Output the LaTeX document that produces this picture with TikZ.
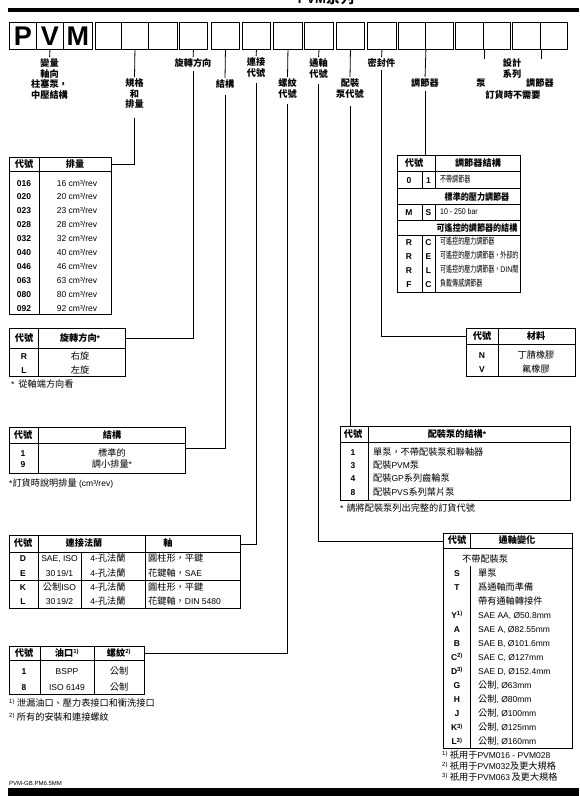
\documentclass[tikz,border=0pt]{standalone}
\usepackage{fontspec}
\setmainfont{Liberation Sans}
\newfontfamily\cjk[Scale=1.08]{Noto Sans CJK TC}
\newfontfamily\cjkn[Scale=1.08, FakeStretch=0.68]{Noto Sans CJK TC}
\newfontfamily\cjkm[Scale=1.08, FakeStretch=0.88]{Noto Sans CJK TC}
\newfontfamily\latn[FakeStretch=0.85]{Liberation Sans}
\newcommand\C[1]{{\cjk #1}}
\newcommand\N[1]{{\cjkn #1}}
\newcommand\M[1]{{\cjkm #1}}
\tikzset{
  fs/.style={font=\fontsize{8.5}{10.5}\selectfont},
  fsb/.style={font=\fontsize{8.5}{10.5}\selectfont\bfseries},
  tx/.style={fs, inner sep=0pt, text height=6pt, text depth=0pt},
  txb/.style={fsb, inner sep=0pt, text height=6pt, text depth=0pt},
  txn/.style={font=\fontsize{8.2}{10}\selectfont\latn, inner sep=0pt, text height=5.8pt, text depth=0pt},
  lab/.style={fsb, inner sep=0pt, align=center, anchor=north},
  cellbox/.style={draw, line width=0.9pt, minimum height=27pt, inner sep=0pt, anchor=north west},
  tab/.style={draw, line width=0.8pt, inner sep=0pt, anchor=north west},
  rowbox/.style={inner sep=0pt, anchor=north west},
  rule/.style={line width=0.8pt},
  con/.style={line width=0.8pt},
  big/.style={font=\fontsize{27}{27}\selectfont\bfseries, inner sep=0pt},
}
\begin{document}
\begin{tikzpicture}[x=1pt,y=-1pt]
\clip (0,0) rectangle (579,796);
% ---------- header ----------
\fill (8,8) rectangle (579,12);
\node[font=\fontsize{13}{13}\selectfont\bfseries, inner sep=0pt, anchor=base] (title) at (326,3) {PVM\C{系列}};
% ---------- code boxes ----------
\foreach \n/\a/\w in {1/9/27, 2/36/27, 3/63/29, 4/95/26, 5/121/27, 6/148/29, 7/179/28, 8/211/28, 9/242/28, 10/273/29, 11/304/29, 12/336/28, 13/367/29, 14/398/27, 15/425/28, 16/455/28, 17/483/27, 18/512/28, 19/540/27}
  \node[cellbox, minimum width=\w pt] (c\n) at (\a,22) {};
\node[big] (lp) at (c1) {P};
\node[big] (lv) at (c2) {V};
\node[big] (lm) at (c3) {M};
% ---------- labels ----------
\node[lab] (lab1) at (49.5,58.7) {\C{變量}\\\C{軸向}\\\C{柱塞泵，}\\\C{中壓結構}};
\node[lab] (lab2) at (134.5,78.7) {\C{規格}\\\C{和}\\\C{排量}};
\node[lab] (lab3) at (193,58.7) {\C{旋轉方向}};
\node[lab] (lab4) at (225,79.7) {\C{結構}};
\node[lab] (lab5) at (256,57.7) {\C{連接}\\\C{代號}};
\node[lab] (lab6) at (287.5,78.7) {\C{螺紋}\\\C{代號}};
\node[lab] (lab7) at (318.5,58.7) {\C{通軸}\\\C{代號}};
\node[lab] (lab8) at (350,78.7) {\C{配裝}\\\C{泵代號}};
\node[lab] (lab9) at (381.5,58.7) {\C{密封件}};
\node[lab] (lab10) at (425,78.7) {\C{調節器}};
\node[lab] (lab11) at (481,78.7) {\C{泵}};
\node[lab] (lab12) at (512,58.7) {\C{設計}\\\C{系列}};
\node[lab] (lab13) at (540,78.7) {\C{調節器}};
\node[lab] (lab14) at (513,90.7) {\C{訂貨時不需要}};
% ---------- displacement table ----------
\node[tab, minimum width=102pt, minimum height=157pt] (tdisp) at (9,157) {};
\node[tab, minimum width=102pt, minimum height=14pt] (tdisph) at (9,157) {};
\draw[rule] (39,157) -- (39,314);
\node[txb] (dh1) at (24,164) {\C{代號}};
\node[txb] (dh2) at (75,164) {\C{排量}};
\foreach \c/\v [count=\i] in {016/16,020/20,023/23,028/28,032/32,040/40,046/46,063/63,080/80,092/92}{
  \pgfmathsetmacro\yy{183+(\i-1)*13.9}
  \node[txb] (dc\i) at (24,\yy) {\c};
  \node[tx] (dv\i) at (77,\yy) {\v\ cm³/rev};
}
% ---------- rotation table ----------
\node[tab, minimum width=116pt, minimum height=48pt] (trot) at (9,328) {};
\node[tab, minimum width=116pt, minimum height=20pt] (troth) at (9,328) {};
\draw[rule] (38,328) -- (38,376);
\node[txb] (rh1) at (24,338) {\C{代號}};
\node[txb] (rh2) at (80,338) {\C{旋轉方向}*};
\node[txb] (rc1) at (24,356) {R};
\node[tx] (rv1) at (80,356) {\C{右旋}};
\node[txb] (rc2) at (24,370) {L};
\node[tx] (rv2) at (80,370) {\C{左旋}};
\node[tx, anchor=west] (rfn) at (11,384) {*\hspace{4pt}\C{從軸端方向看}};
% ---------- structure table ----------
\node[tab, minimum width=176pt, minimum height=46pt] (tstr) at (9,427) {};
\node[tab, minimum width=176pt, minimum height=16pt] (tstrh) at (9,427) {};
\node[rowbox, minimum width=176pt, minimum height=10pt] (tstrr) at (9,443) {};
\draw[rule] (38,427) -- (38,473);
\node[txb] (sh1) at (23,435) {\C{代號}};
\node[txb] (sh2) at (112,435) {\C{結構}};
\node[txb] (sc1) at (23,453) {1};
\node[tx] (sv1) at (112,453) {\C{標準的}};
\node[txb] (sc2) at (23,464) {9};
\node[tx] (sv2) at (112,464) {\C{調小排量}*};
\node[tx, anchor=west] (sfn) at (9,483) {*\C{訂貨時說明排量} (cm³/rev)};
% ---------- connection table ----------
\node[tab, minimum width=231pt, minimum height=73pt] (tcon) at (9,535) {};
\node[tab, minimum width=231pt, minimum height=17pt] (tconh) at (9,535) {};
\draw[rule] (38,535) -- (38,608);
\draw[rule] (145,535) -- (145,608);
\draw[rule] (81,552) -- (81,608);
\draw[rule] (9,580) -- (240,580);
\node[txb] (ch1) at (23,543.5) {\C{代號}};
\node[txb] (ch2) at (84,543.5) {\C{連接法蘭}};
\node[txb] (ch3) at (168,543.5) {\C{軸}};
\node[txb] (cc1) at (23,558) {D};
\node[txb] (cc2) at (23,573) {E};
\node[txb] (cc3) at (23,587) {K};
\node[txb] (cc4) at (23,601) {L};
\node[tx] (cs1) at (59.5,558) {SAE, ISO};
\node[tx] (cs2) at (59.5,573) {30\,19/1};
\node[tx] (cs3) at (59.5,587) {\C{公制}ISO};
\node[tx] (cs4) at (59.5,601) {30\,19/2};
\node[tx] (cf1) at (108,558) {4-\C{孔法蘭}};
\node[tx] (cf2) at (108,573) {4-\C{孔法蘭}};
\node[tx] (cf3) at (108,587) {4-\C{孔法蘭}};
\node[tx] (cf4) at (108,601) {4-\C{孔法蘭}};
\node[tx, anchor=west] (ca1) at (148,558) {\C{圓柱形，平鍵}};
\node[tx, anchor=west] (ca2) at (148,573) {\C{花鍵軸，}SAE};
\node[tx, anchor=west] (ca3) at (148,587) {\C{圓柱形，平鍵}};
\node[tx, anchor=west] (ca4) at (148,601) {\C{花鍵軸，}DIN 5480};
% ---------- port table ----------
\node[tab, minimum width=135pt, minimum height=48pt] (tport) at (9,646) {};
\node[tab, minimum width=135pt, minimum height=14pt] (tporth) at (9,646) {};
\draw[rule] (40,646) -- (40,694);
\draw[rule] (94,646) -- (94,694);
\node[txb] (ph1) at (24,653) {\C{代號}};
\node[txb] (ph2) at (67,653) {\C{油口}\textsuperscript{1)}};
\node[txb] (ph3) at (119,653) {\C{螺紋}\textsuperscript{2)}};
\node[txb] (pc1) at (24,671) {1};
\node[tx] (pp1) at (67,671) {BSPP};
\node[tx] (pt1) at (119,671) {\C{公制}};
\node[txb] (pc2) at (24,687) {8};
\node[tx] (pp2) at (67,687) {ISO 6149};
\node[tx] (pt2) at (119,687) {\C{公制}};
\node[tx, anchor=west] (pfn1) at (9,703) {\textsuperscript{1)}\hspace{2pt}\C{泄漏油口、壓力表接口和衝洗接口}};
\node[tx, anchor=west] (pfn2) at (9,717) {\textsuperscript{2)}\hspace{2pt}\C{所有的安裝和連接螺紋}};
% ---------- regulator table ----------
\node[tab, minimum width=123pt, minimum height=137pt] (treg) at (397,155) {};
\node[tab, minimum width=123pt, minimum height=16pt] (tregh) at (397,155) {};
\draw[rule] (397,188.5) -- (520,188.5);
\draw[rule] (397,204.5) -- (520,204.5);
\draw[rule] (397,220) -- (520,220);
\draw[rule] (397,235) -- (520,235);
\draw[rule] (435,155) -- (435,188.5);
\draw[rule] (435,204.5) -- (435,220);
\draw[rule] (435,235) -- (435,292);
\draw[rule] (422,171) -- (422,188.5);
\draw[rule] (422,204.5) -- (422,220);
\draw[rule] (422,235) -- (422,292);
\node[txb] (gh1) at (414,163) {\C{代號}};
\node[txb] (gh2) at (478,163) {\C{調節器結構}};
\node[txb] (g1a) at (409,180) {0};
\node[txb] (g1b) at (428.5,180) {1};
\node[txn, anchor=west] (g1c) at (440,180) {\N{不帶調節器}};
\node[txb] (gs1) at (477,197) {\M{標準的壓力調節器}};
\node[txb] (g2a) at (409,212) {M};
\node[txb] (g2b) at (428.5,212) {S};
\node[txn, anchor=west] (g2c) at (440,212) {10 - 250 bar};
\node[txb] (gs2) at (477,228) {\M{可遙控的調節器的結構}};
\foreach \a/\b/\d [count=\i] in {R/C/{\N{可遙控的壓力調節器}}, R/E/{\N{可遙控的壓力調節器，外部的}}, R/L/{\N{可遙控的壓力調節器，}DIN\N{閥}}, F/C/{\N{負載傳感調節器}}}{
  \pgfmathsetmacro\yy{242+(\i-1)*14}
  \node[txb] (gra\i) at (409,\yy) {\a};
  \node[txb] (grb\i) at (428.5,\yy) {\b};
  \node[txn, anchor=west] (grc\i) at (440,\yy) {\d};
}
% ---------- material table ----------
\node[tab, minimum width=109pt, minimum height=48pt] (tmat) at (466,328) {};
\node[tab, minimum width=109pt, minimum height=16pt] (tmath) at (466,328) {};
\draw[rule] (498,328) -- (498,376);
\node[txb] (mh1) at (482,336) {\C{代號}};
\node[txb] (mh2) at (536,336) {\C{材料}};
\node[txb] (mc1) at (482,355) {N};
\node[tx] (mv1) at (536,355) {\C{丁腈橡膠}};
\node[txb] (mc2) at (482,369) {V};
\node[tx] (mv2) at (536,369) {\C{氟橡膠}};
% ---------- pump table ----------
\node[tab, minimum width=230pt, minimum height=74pt] (tpump) at (340,426) {};
\node[tab, minimum width=230pt, minimum height=16pt] (tpumph) at (340,426) {};
\draw[rule] (368,426) -- (368,500);
\node[txb] (uh1) at (353,434) {\C{代號}};
\node[txb] (uh2) at (457,434) {\C{配裝泵的結構}*};
\foreach \c/\d [count=\i] in {1/{\C{單泵，不帶配裝泵和聯軸器}}, 3/{\C{配裝}PVM\C{泵}}, 4/{\C{配裝}GP\C{系列齒輪泵}}, 8/{\C{配裝}PVS\C{系列葉片泵}}}{
  \pgfmathsetmacro\yy{452+(\i-1)*13.4}
  \node[txb] (uc\i) at (353,\yy) {\c};
  \node[tx, anchor=west] (ud\i) at (373,\yy) {\d};
}
\node[tx, anchor=west] (ufn) at (340,508) {*\hspace{3pt}\C{請將配裝泵列出完整的訂貨代號}};
% ---------- shaft table ----------
\node[tab, minimum width=129pt, minimum height=215pt] (tshaft) at (443,533) {};
\node[tab, minimum width=129pt, minimum height=15pt] (tshafth) at (443,533) {};
\draw[rule] (470,533) -- (470,548);
\draw[rule] (470,566) -- (470,748);
\node[txb] (hh1) at (457,540.5) {\C{代號}};
\node[txb] (hh2) at (517,540.5) {\C{通軸變化}};
\node[tx, anchor=west] (hs0) at (462,559) {\C{不帶配裝泵}};
\node[txb] (hc1) at (457,573) {S};
\node[tx, anchor=west] (hd1) at (478,573) {\C{單泵}};
\node[txb] (hc2) at (457,587) {T};
\node[tx, anchor=west] (hd2) at (478,587) {\C{爲通軸而準備}};
\node[tx, anchor=west] (hd3) at (478,601) {\C{帶有通軸轉接件}};
\foreach \c/\d [count=\i] in {Y\textsuperscript{1)}/{SAE AA, Ø50.8mm}, A/{SAE A, Ø82.55mm}, B/{SAE B, Ø101.6mm}, C\textsuperscript{2)}/{SAE C, Ø127mm}, D\textsuperscript{3)}/{SAE D, Ø152.4mm}, G/{\C{公制}, Ø63mm}, H/{\C{公制}, Ø80mm}, J/{\C{公制}, Ø100mm}, K\textsuperscript{3)}/{\C{公制}, Ø125mm}, L\textsuperscript{3)}/{\C{公制}, Ø160mm}}{
  \pgfmathsetmacro\yy{615.5+(\i-1)*14.05}
  \node[txb] (hk\i) at (457,\yy) {\c};
  \node[tx, anchor=west] (hv\i) at (478,\yy) {\d};
}
\node[tx, anchor=west] (hfn1) at (442,755) {\textsuperscript{1)}\hspace{2pt}\C{祇用于}PVM016 - PVM028};
\node[tx, anchor=west] (hfn2) at (442,766) {\textsuperscript{2)}\hspace{2pt}\C{祇用于}PVM032\C{及更大規格}};
\node[tx, anchor=west] (hfn3) at (442,777) {\textsuperscript{3)}\hspace{2pt}\C{祇用于}PVM063\,\C{及更大規格}};
% ---------- footer ----------
\node[font=\fontsize{6}{6}\selectfont, inner sep=0pt, anchor=west] (foot) at (9,783) {PVM-GB.PM6.5MM};
\fill (8,788) rectangle (579,796);
% ---------- connectors ----------
\draw[con, shorten >=1.5pt] (c2.south) -- (lab1.north);
\draw[con, shorten >=1.5pt] (c5.south) -- (lab2.north);
\draw[con, shorten >=1.5pt] (c7.south) -- (lab3.north);
\draw[con, shorten >=1.5pt] (c8.south) -- (lab4.north);
\draw[con, shorten >=1.5pt] (c9.south) -- (lab5.north);
\draw[con, shorten >=1.5pt] (c10.south) -- (lab6.north);
\draw[con, shorten >=1.5pt] (c11.south) -- (lab7.north);
\draw[con, shorten >=1.5pt] (c12.south) -- (lab8.north);
\draw[con, shorten >=1.5pt] (c13.south) -- (lab9.north);
\draw[con, shorten >=1.5pt] (c14.south east) -- (lab10.north);
\draw[con] (c16.south east) -- ++(0,9);
\draw[con] (c18.south east) -- ++(0,9);
\draw[con, shorten <=9pt] (lab2.south) |- (tdisph.east);
\draw[con, shorten <=3pt] (lab3.south) |- (troth.east);
\draw[con, shorten <=6pt] (lab4.south) |- (tstrr.east);
\draw[con, shorten <=6pt] (lab5.south) |- (tconh.east);
\draw[con, shorten <=6pt] (lab6.south) |- (tporth.east);
\draw[con, shorten <=6pt] (lab7.south) |- (tshafth.west);
\draw[con, shorten <=8pt] (lab8.south) -- (lab8.south |- tpump.north);
\draw[con, shorten <=2pt] (lab9.south) |- (tmath.west);
\draw[con, shorten <=3pt] (lab10.south) -- (lab10.south |- treg.north);
\end{tikzpicture}
\end{document}
